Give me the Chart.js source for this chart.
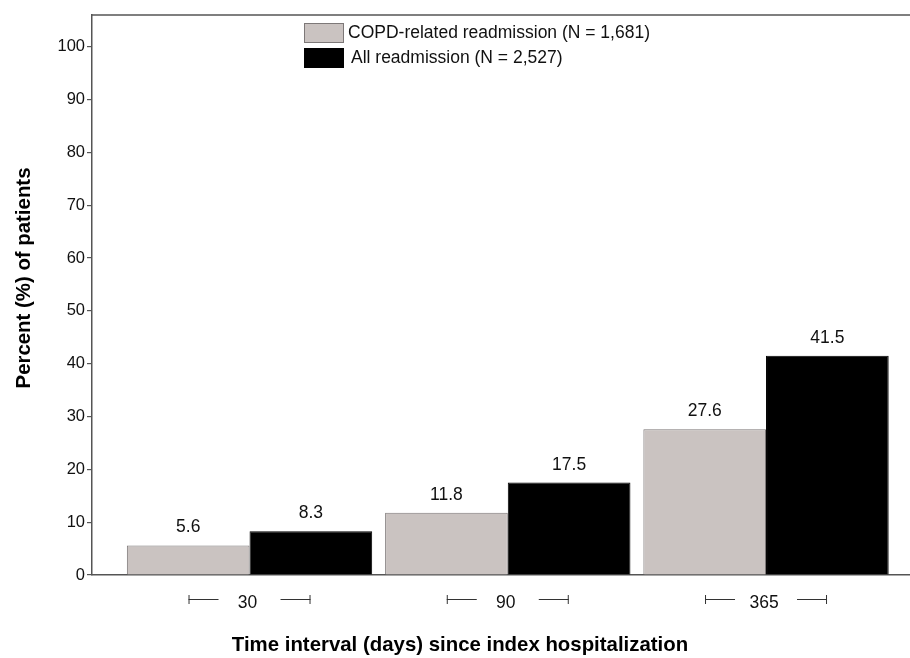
<!DOCTYPE html>
<html><head><meta charset="utf-8">
<script src="https://cdn.jsdelivr.net/npm/chart.js@4"></script>
<style>html,body{margin:0;padding:0;background:#fff}#wrap{width:910px;height:658px;position:relative}</style>
</head><body><div id="wrap"><canvas id="c"></canvas></div>
<script>
const categories = ['30', '90', '365'];
const copdRelated = [5.6, 11.8, 27.6];
const allReadmission = [8.3, 17.5, 41.5];
const seriesLabels = ['COPD-related readmission (N = 1,681)', 'All readmission (N = 2,527)'];
const yTicks = [0, 10, 20, 30, 40, 50, 60, 70, 80, 90, 100];
const xTitle = 'Time interval (days) since index hospitalization';
const yTitle = 'Percent (%) of patients';

const FONT = '"Liberation Sans", Arial, Helvetica, sans-serif';
const AXIS = '#555';

const deco = {
  id: 'deco',
  afterDatasetsDraw(chart) {
    const { ctx, chartArea: ca, scales: { x } } = chart;
    ctx.save();
    // top frame line
    ctx.strokeStyle = AXIS; ctx.lineWidth = 1.5;
    ctx.beginPath(); ctx.moveTo(ca.left - 1, ca.top); ctx.lineTo(ca.right, ca.top); ctx.stroke();

    // value labels
    ctx.font = '17.5px ' + FONT; ctx.fillStyle = '#111';
    ctx.textAlign = 'center'; ctx.textBaseline = 'alphabetic';
    chart.data.datasets.forEach((ds, di) => {
      chart.getDatasetMeta(di).data.forEach((bar, i) => {
        ctx.fillText(ds.data[i].y.toFixed(1), bar.x, bar.y - 13);
      });
    });

    // category labels with bracket decorations
    ctx.textBaseline = 'middle';
    ctx.strokeStyle = '#333'; ctx.lineWidth = 1;
    categories.forEach((c, i) => {
      const cx = x.getPixelForValue(i);
      ctx.fillText(c, cx - 2, 603);
      const ly = 599.5;
      ctx.beginPath();
      ctx.moveTo(cx - 61, ly); ctx.lineTo(cx - 31, ly);
      ctx.moveTo(cx - 60.5, 595); ctx.lineTo(cx - 60.5, 604);
      ctx.moveTo(cx + 31, ly); ctx.lineTo(cx + 61, ly);
      ctx.moveTo(cx + 60.5, 595); ctx.lineTo(cx + 60.5, 604);
      ctx.stroke();
    });

    // legend
    ctx.textAlign = 'left';
    ctx.font = '17.5px ' + FONT;
    const lx = ca.left + 212;
    chart.data.datasets.forEach((ds, di) => {
      const by = ca.top + 8 + di * 25;
      ctx.fillStyle = ds.backgroundColor;
      ctx.fillRect(lx, by, 40, 20);
      ctx.strokeStyle = ds.borderColor; ctx.lineWidth = 1;
      ctx.strokeRect(lx + 0.5, by + 0.5, 39, 19);
      ctx.fillStyle = '#111';
      ctx.fillText(ds.label, lx + 44 + di * 3, by + 10.5);
    });

    // axis titles
    ctx.font = 'bold 20.4px ' + FONT; ctx.fillStyle = '#000'; ctx.textAlign = 'center';
    ctx.fillText(xTitle, 460, 645);
    ctx.translate(24, 278); ctx.rotate(-Math.PI / 2);
    ctx.fillText(yTitle, 0, 0);
    ctx.restore();
  }
};

new Chart(document.getElementById('c'), {
  type: 'bar',
  data: {
    datasets: [
      { label: seriesLabels[0], data: categories.map((c, i) => ({ x: i, y: copdRelated[i] })),
        backgroundColor: '#cac3c1', borderColor: '#7d7878', borderWidth: 1 },
      { label: seriesLabels[1], data: categories.map((c, i) => ({ x: i, y: allReadmission[i] })),
        backgroundColor: '#000000', borderColor: '#000000', borderWidth: 1 }
    ]
  },
  options: {
    responsive: true, maintainAspectRatio: false, animation: false, events: [],
    layout: { padding: { top: 15, right: 0, bottom: 0, left: 0 } },
    categoryPercentage: 0.95, barPercentage: 1.0,
    plugins: { legend: { display: false }, tooltip: { enabled: false } },
    scales: {
      x: {
        type: 'linear', offset: false, min: -0.61, max: 2.5575,
        afterBuildTicks: s => { s.ticks = categories.map((c, i) => ({ value: i })); },
        ticks: { display: false }, grid: { display: false },
        border: { color: AXIS, width: 1.5 },
        afterFit: s => { s.height = 83; }
      },
      y: {
        min: 0, max: 106,
        afterBuildTicks: s => { s.ticks = yTicks.map(v => ({ value: v })); },
        ticks: { color: '#111', padding: 2, font: { family: FONT, size: 16.5 } },
        grid: { drawOnChartArea: false, drawTicks: true, tickLength: 5, color: AXIS, lineWidth: 1.2 },
        border: { color: AXIS, width: 1.5 },
        afterFit: s => { s.width = 92; }
      }
    }
  },
  plugins: [deco]
});
</script>
</body></html>
